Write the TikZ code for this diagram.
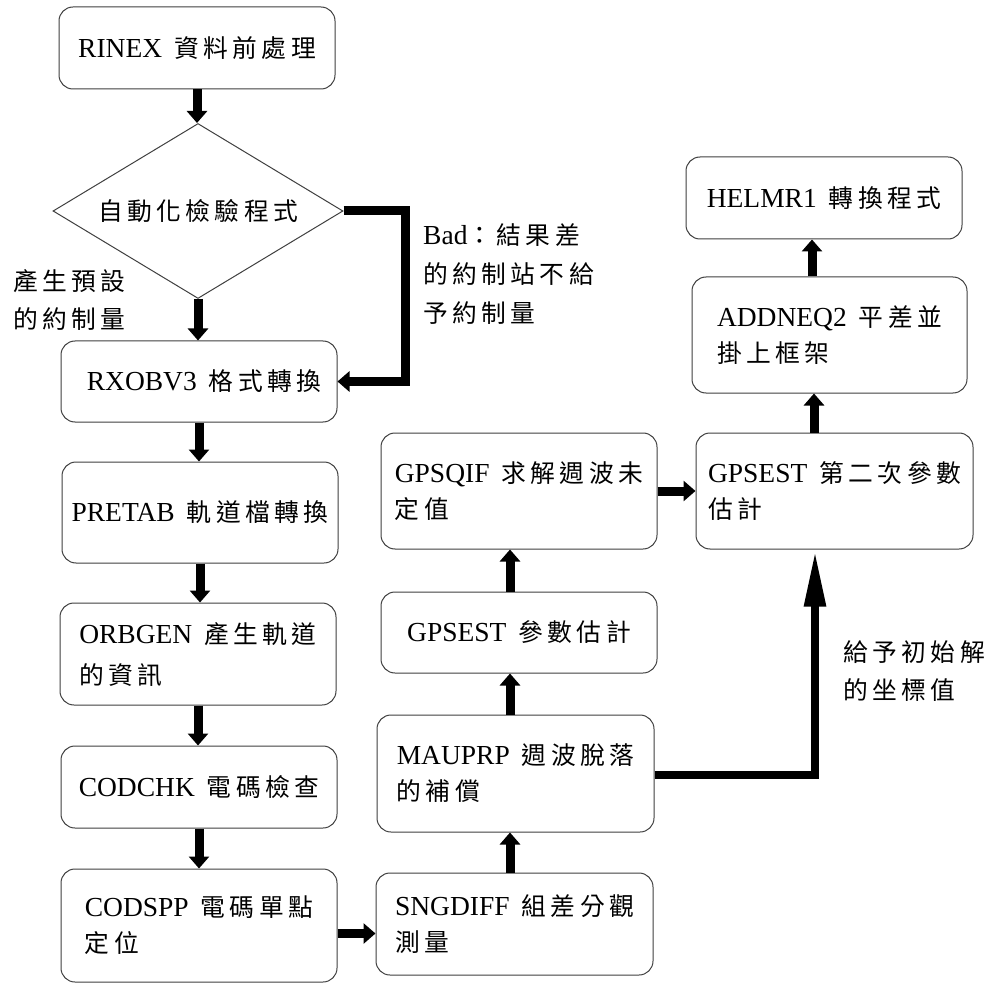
\documentclass[tikz,border=0pt]{standalone}
\usepackage{fontspec}
\setmainfont{Liberation Serif}
\newfontfamily\cjk{Noto Sans CJK TC}[LetterSpace=18,Scale=0.9]
\usetikzlibrary{arrows.meta,shapes.geometric}
\newcommand\zh[1]{{\cjk #1}}
\newcommand\gp{\hspace*{12pt}}
\begin{document}
\begin{tikzpicture}[x=1pt,y=-1pt,
  box/.style={draw=black!75, line width=1pt, rounded corners=14pt, inner sep=0pt,
    font=\fontsize{27.5}{36}\selectfont, align=left},
  flow/.style={line width=9pt, -{Triangle[width=20pt,length=12pt]}},
  lbl/.style={font=\fontsize{27.5}{38}\selectfont, align=left, anchor=west, inner sep=0pt}]
\useasboundingbox[fill=white] (0,0) rectangle (988,984);

% left column
\node[box, minimum width=276pt, minimum height=82pt] (rinex) at (197,48) {RINEX\gp\zh{資料前處理}};
\node[draw=black!75, line width=1pt, diamond, aspect=1.657, minimum width=290pt, minimum height=175pt,
  inner sep=0pt, font=\fontsize{27.5}{36}\selectfont] (check) at (198,211) {\zh{自動化檢驗程式}};
\node[box, minimum width=276pt, minimum height=81pt] (rxobv3) at (199,381.5) {\hspace*{10pt}RXOBV3\gp\zh{格式轉換}};
\node[box, minimum width=276pt, minimum height=101pt] (pretab) at (200,512.5) {PRETAB\gp\zh{軌道檔轉換}};
\node[box, minimum width=276pt, minimum height=102pt] (orbgen) at (198,654) {ORBGEN\gp\zh{產生軌道}\\[5pt]\zh{的資訊}};
\node[box, minimum width=276pt, minimum height=82pt] (codchk) at (199,787) {CODCHK\gp\zh{電碼檢查}};
\node[box, minimum width=276pt, minimum height=113pt] (codspp) at (199,925.5) {CODSPP\gp\zh{電碼單點}\\\zh{定位}};

% middle column
\node[box, minimum width=277pt, minimum height=102pt] (sngdiff) at (514.5,924) {SNGDIFF\gp\zh{組差分觀}\\\zh{測量}};
\node[box, minimum width=277pt, minimum height=117pt] (mauprp) at (515.5,773.5) {MAUPRP\gp\zh{週波脫落}\\\zh{的補償}};
\node[box, minimum width=276pt, minimum height=81pt] (gpsest) at (519,632.5) {GPSEST\gp\zh{參數估計}};
\node[box, minimum width=276pt, minimum height=116pt] (gpsqif) at (519,491) {GPSQIF\gp\zh{求解週波未}\\\zh{定值}};

% right column
\node[box, minimum width=277pt, minimum height=116pt] (gpsest2) at (834.5,491) {GPSEST\gp\zh{第二次參數}\\\zh{估計}};
\node[box, minimum width=275pt, minimum height=116pt] (addneq2) at (829.5,335) {ADDNEQ2\gp\zh{平差並}\\\zh{掛上框架}};
\node[box, minimum width=276pt, minimum height=82pt] (helmr1) at (824,198) {HELMR1\gp\zh{轉換程式}};

% labels
\node[lbl] (lblgood) at (13,300) {\zh{產生預設}\\\zh{的約制量}};
\node[lbl, font=\fontsize{27.5}{39}\selectfont] (lblbad) at (423,274) {Bad\zh{：結果差}\\\zh{的約制站不給}\\\zh{予約制量}};
\node[lbl] (lblinit) at (843,671) {\zh{給予初始解}\\\zh{的坐標值}};

% connectors
\draw[flow] (rinex.south) -- (rinex.south |- check.north);
\draw[flow] (check.south) -- (check.south |- rxobv3.north);
\draw[flow] (check.east) -- ++(62,0) |- (rxobv3.east);
\draw[flow] (rxobv3.south) -- (rxobv3.south |- pretab.north);
\draw[flow] (pretab.south) -- (pretab.south |- orbgen.north);
\draw[flow] (orbgen.south) -- (orbgen.south |- codchk.north);
\draw[flow] (codchk.south) -- (codchk.south |- codspp.north);
\draw[flow] ([yshift=-8pt]codspp.east) -- ([yshift=-8pt]codspp.east -| sngdiff.west);
\draw[flow] (510,0 |- sngdiff.north) -- (510,0 |- mauprp.south);
\draw[flow] (510,0 |- mauprp.north) -- (510,0 |- gpsest.south);
\draw[flow] (510,0 |- gpsest.north) -- (510,0 |- gpsqif.south);
\draw[flow] (gpsqif.east) -- (gpsest2.west);
\draw[line width=8.5pt, -{Triangle[width=20pt,length=57pt]}] (mauprp.east |- 0,775) -| (815,0 |- gpsest2.south);
\draw[flow] (814,0 |- gpsest2.north) -- (814,0 |- addneq2.south);
\draw[flow] (812,0 |- addneq2.north) -- (812,0 |- helmr1.south);
\end{tikzpicture}
\end{document}
